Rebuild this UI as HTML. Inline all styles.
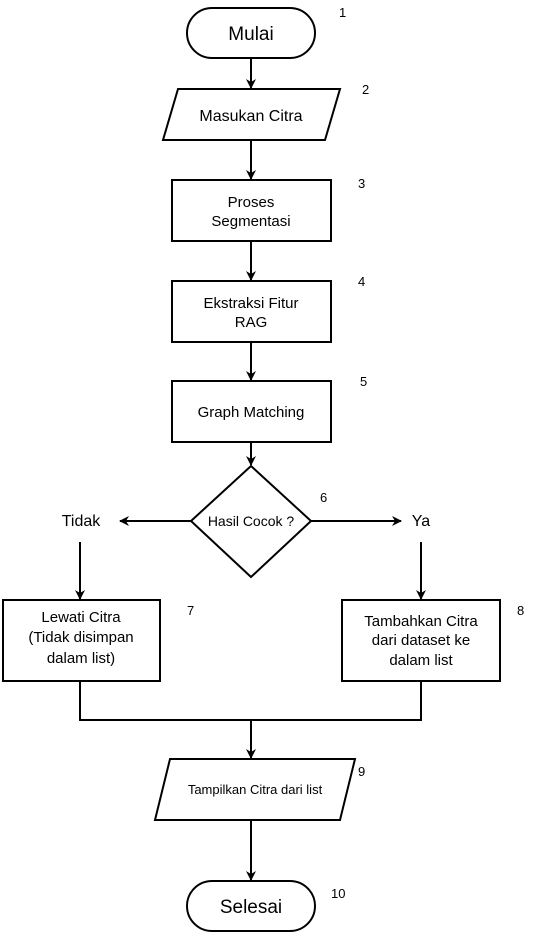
<!DOCTYPE html>
<html><head><meta charset="utf-8"><style>
html,body{margin:0;padding:0;background:#fff;}
svg{display:block;font-family:"Liberation Sans",sans-serif;}
</style></head><body>
<svg width="542" height="942" viewBox="0 0 542 942" xmlns="http://www.w3.org/2000/svg">
<defs><marker id="a" markerWidth="10" markerHeight="10" refX="9" refY="5" orient="auto" markerUnits="userSpaceOnUse"><path d="M0,0 L10,5 L0,10 L3,5 z" fill="#000"/></marker></defs>
<g fill="#fff" stroke="#000" stroke-width="2">
<rect x="187" y="8" width="128" height="50" rx="25"/>
<polygon points="178,89 340,89 325,140 163,140"/>
<rect x="172" y="180" width="159" height="61"/>
<rect x="172" y="281" width="159" height="61"/>
<rect x="172" y="381" width="159" height="61"/>
<polygon points="251,466 311,521 251,577 191,521"/>
<rect x="3" y="600" width="157" height="81"/>
<rect x="342" y="600" width="158" height="81"/>
<polygon points="170,759 355,759 340,820 155,820"/>
<rect x="187" y="881" width="128" height="50" rx="25"/>
</g>
<g stroke="#000" stroke-width="2" fill="none">
<line x1="251" y1="58" x2="251" y2="88" marker-end="url(#a)"/>
<line x1="251" y1="140" x2="251" y2="179" marker-end="url(#a)"/>
<line x1="251" y1="241" x2="251" y2="280" marker-end="url(#a)"/>
<line x1="251" y1="342" x2="251" y2="380" marker-end="url(#a)"/>
<line x1="251" y1="442" x2="251" y2="465" marker-end="url(#a)"/>
<line x1="191" y1="521" x2="120" y2="521" marker-end="url(#a)"/>
<line x1="311" y1="521" x2="401" y2="521" marker-end="url(#a)"/>
<line x1="80" y1="542" x2="80" y2="599" marker-end="url(#a)"/>
<line x1="421" y1="542" x2="421" y2="599" marker-end="url(#a)"/>
<polyline points="80,681 80,720 421,720 421,681"/>
<line x1="251" y1="720" x2="251" y2="758" marker-end="url(#a)"/>
<line x1="251" y1="820" x2="251" y2="880" marker-end="url(#a)"/>
</g>
<g text-anchor="middle" fill="#000">
<text x="251" y="40" font-size="19">Mulai</text>
<text x="251" y="121" font-size="16">Masukan Citra</text>
<text x="251" y="207" font-size="15">Proses</text>
<text x="251" y="226" font-size="15">Segmentasi</text>
<text x="251" y="308" font-size="15">Ekstraksi Fitur</text>
<text x="251" y="327" font-size="15">RAG</text>
<text x="251" y="417" font-size="15">Graph Matching</text>
<text x="251" y="526" font-size="14">Hasil Cocok ?</text>
<text x="81" y="526" font-size="16">Tidak</text>
<text x="421" y="526" font-size="16">Ya</text>
<text x="81" y="622" font-size="15">Lewati Citra</text>
<text x="81" y="642" font-size="15">(Tidak disimpan</text>
<text x="81" y="663" font-size="15">dalam list)</text>
<text x="421" y="626" font-size="15">Tambahkan Citra</text>
<text x="421" y="645" font-size="15">dari dataset ke</text>
<text x="421" y="665" font-size="15">dalam list</text>
<text x="255" y="794" font-size="13">Tampilkan Citra dari list</text>
<text x="251" y="913" font-size="19">Selesai</text>
</g>
<g fill="#000" font-size="13">
<text x="339" y="17">1</text>
<text x="362" y="94">2</text>
<text x="358" y="188">3</text>
<text x="358" y="286">4</text>
<text x="360" y="386">5</text>
<text x="320" y="502">6</text>
<text x="187" y="615">7</text>
<text x="517" y="615">8</text>
<text x="358" y="776">9</text>
<text x="331" y="898">10</text>
</g>
</svg>
</body></html>
